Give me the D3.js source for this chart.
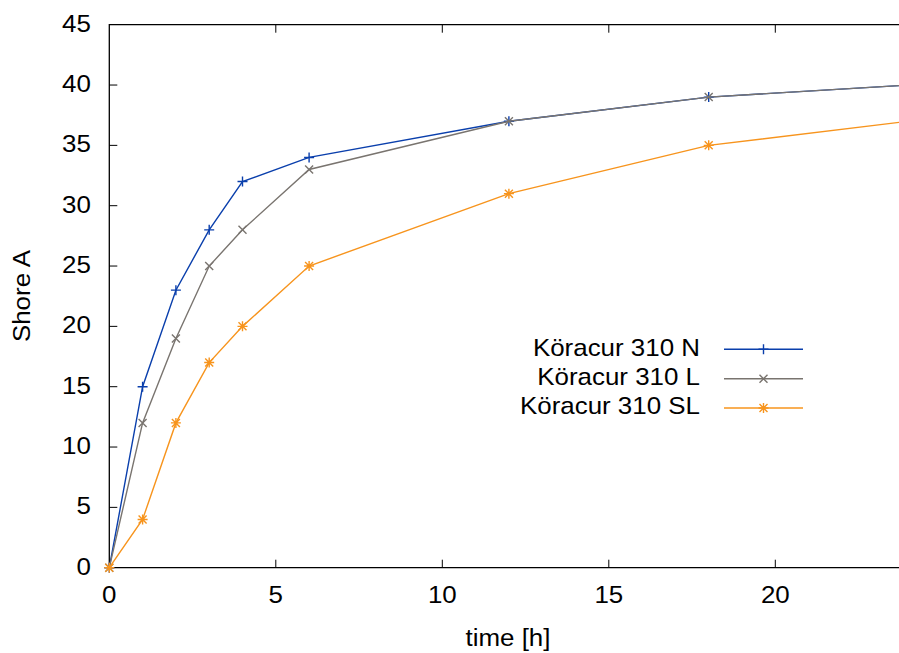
<!DOCTYPE html>
<html>
<head>
<meta charset="utf-8">
<script src="https://cdn.jsdelivr.net/npm/d3@7"></script>
<style>
  body { margin: 0; background: #fff; }
  svg { display: block; font-family: "Liberation Sans", Arial, sans-serif; }
</style>
</head>
<body>
<svg width="899" height="653"></svg>
<script>
const hours = [0, 1, 2, 3, 4, 6, 12, 18, 24];
const shoreN = [0, 15, 23, 28, 32, 34, 37, 39, 40];
const shoreL = [0, 12, 19, 25, 28, 33, 37, 39, 40];
const shoreSL = [0, 4, 12, 17, 20, 25, 31, 35, 37];
const seriesNames = ["Köracur 310 N", "Köracur 310 L", "Köracur 310 SL"];
const xTicks = [0, 5, 10, 15, 20];
const yTicks = [0, 5, 10, 15, 20, 25, 30, 35, 40, 45];

const plotLeft = 109.3, plotTop = 24.7, plotBottom = 567.7;
const pxPerHour = 33.3;
const fontSize = 24, stretch = 1.08;

const x = d3.scaleLinear().domain([0, 24]).range([plotLeft, plotLeft + 24 * pxPerHour]);
const y = d3.scaleLinear().domain([0, 45]).range([plotBottom, plotTop]);

const svg = d3.select("svg");

const series = [
  { name: seriesNames[0], values: shoreN, color: "#0a3fac", mark: "plus" },
  { name: seriesNames[1], values: shoreL, color: "#79746f", mark: "cross" },
  { name: seriesNames[2], values: shoreSL, color: "#f7941d", mark: "star" }
];

// text helper: the reference font is a bit wider than Liberation Sans
function label(px, py, str, anchor, rot) {
  return svg.append("text")
    .attr("transform", `translate(${px},${py})` + (rot ? ` rotate(${rot})` : "") + ` scale(${stretch},1)`)
    .attr("text-anchor", anchor)
    .attr("font-size", fontSize)
    .text(str);
}

// marker paths
function markPath(type, s) {
  const plus = `M${-s},0H${s}M0,${-s}V${s}`;
  const c = s * 0.8;
  const cross = `M${-c},${-c}L${c},${c}M${-c},${c}L${c},${-c}`;
  if (type === "plus") return plus;
  if (type === "cross") return cross;
  return plus + cross;
}

// frame (right side falls off the picture)
const frameRight = x(24);
svg.append("path")
  .attr("d", `M${frameRight},${plotTop}H${plotLeft}V${plotBottom}H${frameRight}`)
  .attr("fill", "none")
  .attr("stroke", "#000")
  .attr("stroke-width", 1.3);

// y ticks
yTicks.forEach(t => {
  if (t > 0 && t < 45) {
    svg.append("line")
      .attr("x1", plotLeft).attr("x2", plotLeft + 8)
      .attr("y1", y(t)).attr("y2", y(t))
      .attr("stroke", "#000").attr("stroke-width", 1);
  }
  label(plotLeft - 18.5, y(t) + 6.8, t, "end");
});

// x ticks, mirrored on the top border
xTicks.forEach(t => {
  if (t > 0) {
    svg.append("line")
      .attr("x1", x(t)).attr("x2", x(t))
      .attr("y1", plotBottom).attr("y2", plotBottom - 8)
      .attr("stroke", "#000").attr("stroke-width", 1);
    svg.append("line")
      .attr("x1", x(t)).attr("x2", x(t))
      .attr("y1", plotTop).attr("y2", plotTop + 8)
      .attr("stroke", "#000").attr("stroke-width", 1);
  }
  label(x(t), plotBottom + 35.5, t, "middle");
});

// axis titles
label(508, 646, "time [h]", "middle");
label(30, 296, "Shore A", "middle", -90);

// lines and markers
const line = d3.line().x(d => x(d[0])).y(d => y(d[1]));

series.forEach(s => {
  const pts = hours.map((h, i) => [h, s.values[i]]);
  svg.append("path")
    .datum(pts)
    .attr("d", line)
    .attr("fill", "none")
    .attr("stroke", s.color)
    .attr("stroke-width", 1.4);
  svg.selectAll(null)
    .data(pts)
    .enter()
    .append("path")
    .attr("transform", d => `translate(${x(d[0])},${y(d[1])})`)
    .attr("d", markPath(s.mark, 5))
    .attr("fill", "none")
    .attr("stroke", s.color)
    .attr("stroke-width", 1.4);
});

// legend
const legendY = [349.3, 378.7, 408];
series.forEach((s, i) => {
  const ly = legendY[i];
  label(700, ly + 6.3, s.name, "end");
  svg.append("line")
    .attr("x1", 724).attr("x2", 803)
    .attr("y1", ly).attr("y2", ly)
    .attr("stroke", s.color)
    .attr("stroke-width", 1.4);
  svg.append("path")
    .attr("transform", `translate(763.5,${ly})`)
    .attr("d", markPath(s.mark, 5))
    .attr("fill", "none")
    .attr("stroke", s.color)
    .attr("stroke-width", 1.4);
});
</script>
</body>
</html>
